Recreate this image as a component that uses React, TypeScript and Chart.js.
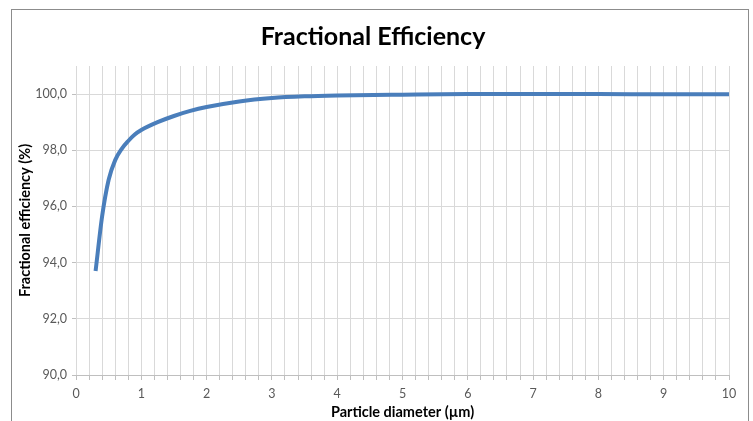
import React, { useEffect, useRef } from "react";
import { Chart, registerables } from "chart.js";

Chart.register(...registerables);

const titleText = "Fractional Efficiency";
const xTitle = "Particle diameter (µm)";
const yTitle = "Fractional efficiency (%)";

const diameters = [0.3, 0.4, 0.5, 0.6, 0.7, 0.8, 0.9, 1.0, 1.25, 1.5, 1.75, 2.0, 2.5, 3.0, 3.5, 4.0, 5.0, 6.0, 7.0, 8.0, 9.0, 10.0];
const efficiency = [93.7, 95.65, 96.95, 97.65, 98.05, 98.33, 98.56, 98.72, 99.0, 99.22, 99.4, 99.54, 99.74, 99.86, 99.92, 99.95, 99.98, 100.0, 100.0, 100.0, 99.99, 99.99];

const yTickValues = [90, 92, 94, 96, 98, 100];

export default function App() {
  const ref = useRef<HTMLCanvasElement>(null);

  useEffect(() => {
    if (!ref.current) return;
    const chart = new Chart(ref.current, {
      type: "line",
      data: {
        datasets: [
          {
            data: diameters.map((d, i) => ({ x: d, y: efficiency[i] })),
            borderColor: "#4A7EBB",
            borderWidth: 4,
            pointRadius: 0,
            fill: false,
            cubicInterpolationMode: "monotone",
          },
        ],
      },
      options: {
        animation: false,
        responsive: false,
        devicePixelRatio: 1,
        layout: { padding: { left: 17, right: 24, top: 0, bottom: 0 } },
        plugins: {
          legend: { display: false },
          tooltip: { enabled: false },
          title: {
            display: true,
            text: titleText,
            color: "#000000",
            font: { family: "Lato", size: 25, weight: "bold" },
            padding: { top: 22, bottom: 14 },
          },
        },
        scales: {
          x: {
            type: "linear",
            min: 0,
            max: 10,
            afterBuildTicks: (scale: any) => {
              const t = [];
              for (let i = 0; i <= 50; i++) t.push({ value: Math.round(i * 2) / 10 });
              scale.ticks = t;
            },
            afterFit: (scale: any) => {
              scale.height = 46;
            },
            ticks: {
              autoSkip: false,
              maxRotation: 0,
              color: "#595959",
              font: { family: "Lato", size: 12.5 },
              padding: 6,
              callback: (v: any) => (Math.abs(v - Math.round(v)) < 1e-6 ? String(Math.round(v)) : ""),
            },
            grid: { color: "#d9d9d9", tickColor: "#bfbfbf", tickLength: 5, lineWidth: 1 },
            border: { display: true, color: "#bfbfbf" },
            title: {
              display: true,
              text: xTitle,
              color: "#000000",
              font: { family: "Lato", size: 14.5, weight: "bold" },
              padding: { top: 2, bottom: 0 },
            },
          },
          y: {
            type: "linear",
            min: 90,
            max: 101,
            afterBuildTicks: (scale: any) => {
              scale.ticks = yTickValues.map((v) => ({ value: v }));
            },
            afterFit: (scale: any) => {
              scale.width = 59;
            },
            ticks: {
              color: "#595959",
              font: { family: "Lato", size: 12.5 },
              padding: 5,
              callback: (v: any) => Number(v).toFixed(1).replace(".", ","),
            },
            grid: { color: "#d9d9d9", tickColor: "#bfbfbf", tickLength: 4 },
            border: { display: false },
            title: {
              display: true,
              text: yTitle,
              color: "#000000",
              font: { family: "Lato", size: 14.5, weight: "bold" },
              padding: { top: 0, bottom: 0 },
            },
          },
        },
      },
    });
    return () => chart.destroy();
  }, []);

  return (
    <div style={{ position: "fixed", left: 0, top: 0, width: 753, height: 421, background: "#ffffff" }}>
      <div
        style={{
          position: "absolute",
          left: 11,
          top: 9,
          width: 738,
          height: 430,
          border: "1px solid #8c8c8c",
          boxSizing: "border-box",
        }}
      />
      <canvas ref={ref} width={753} height={421} style={{ position: "absolute", left: 0, top: 0, width: 753, height: 421 }} />
    </div>
  );
}
